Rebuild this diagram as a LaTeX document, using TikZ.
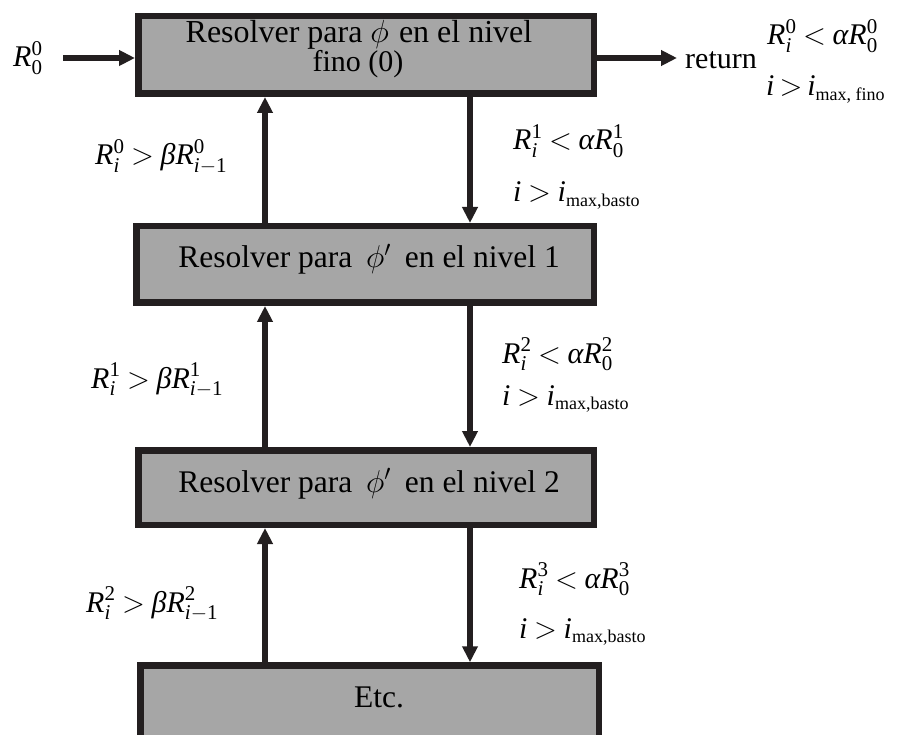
\RequirePackage{fix-cm}
\documentclass[tikz,border=0pt]{standalone}
\usepackage{amsmath}
\usepackage{fontspec}
\setmainfont{Liberation Serif}
\usetikzlibrary{arrows.meta}

\definecolor{boxfill}{RGB}{166,166,166}
\definecolor{ink}{RGB}{35,31,32}

% formula sizes: main 30pt, scripts 21pt; tighter relation spacing
\DeclareMathSizes{30}{30}{21}{15}
\thickmuskip=4mu plus 2mu\relax

% italic / upright letters set in the text font inside formulas
\newcommand\mi[1]{\text{\itshape #1}}
\newcommand\mr[1]{\text{\upshape #1}}
% smaller upright index text
\newcommand\idx[1]{\text{\upshape\fontsize{18}{18}\selectfont #1}}

\begin{document}
\begin{tikzpicture}[x=1pt,y=-1pt,
  levelbox/.style={draw=ink, line width=6.5pt, fill=boxfill, inner sep=0pt},
  boxtext/.style={inner sep=0pt, anchor=base, font=\fontsize{31.5}{31.5}\selectfont},
  cond/.style={inner sep=0pt, anchor=base west, font=\fontsize{30}{30}\selectfont},
  flow/.style={draw=ink, line width=5.5pt, -{Triangle[width=15pt,length=16pt]}}]

\useasboundingbox (0,0) rectangle (897,735);
\clip (0,0) rectangle (897,735);

% level boxes
\node[levelbox, minimum width=455.5pt, minimum height=77.5pt] (b0) at (366,55) {};
\node[levelbox, minimum width=457.5pt, minimum height=76.5pt] (b1) at (365,264.5) {};
\node[levelbox, minimum width=455.5pt, minimum height=74.5pt] (b2) at (366,487.5) {};
\node[levelbox, minimum width=458.5pt, minimum height=80pt] (b3) at (369.5,705.5) {};

% box captions
\node[boxtext, font=\fontsize{32}{32}\selectfont] (t0a) at (359,43)
  {Resolver para $\phi$\hspace{2pt} en el nivel};
\node[boxtext, font=\fontsize{30}{30}\selectfont] (t0b) at (358,72) {fino (0)};
\node[boxtext] (t1) at (369,268)
  {Resolver para\hspace{6pt} $\phi'$\hspace{6pt} en el nivel 1};
\node[boxtext] (t2) at (369,492)
  {Resolver para\hspace{6pt} $\phi'$\hspace{6pt} en el nivel 2};
\node[boxtext] (t3) at (379,707) {Etc.};

% columns of the up and down connectors
\coordinate (ux) at (265,0);
\coordinate (dx) at (470,0);

% input and output
\coordinate (in) at (63,58);
\coordinate (out) at (677,58);
\node[cond] (r0) at (13,67) {$\mi{R}^{\mr{0}}_{\mr{0}}$};
\draw[flow] (in) -- (in -| b0.west);
\draw[flow] (b0.east |- out) -- (out);
\node[inner sep=0pt, anchor=base west, font=\fontsize{30}{30}\selectfont] (ret) at (685,69) {return};
\node[cond] (c0a) at (767,45)
  {$\mi{R}^{\mr{0}}_{\mi{i}} < \mi{α}\mi{R}^{\mr{0}}_{\mr{0}}$};
\node[cond] (c0b) at (766,96)
  {$\mi{i} \mathrel{\mkern-1mu>\mkern-1mu} \mi{i}_{\idx{max, fino}}$};

% level 0 <-> level 1
\draw[flow] (b1.north -| ux) -- (b0.south -| ux);
\draw[flow] (b0.south -| dx) -- (b1.north -| dx);
\node[cond] (u1) at (95,165)
  {$\mi{R}^{\mr{0}}_{\mi{i}} > \mi{β}\mi{R}^{\mr{0}}_{\mi{i}-\mr{1}}$};
\node[cond] (d1a) at (513,150)
  {$\mi{R}^{\mr{1}}_{\mi{i}} < \mi{α}\mi{R}^{\mr{1}}_{\mr{0}}$};
\node[cond] (d1b) at (513,202)
  {$\mi{i} > \mi{i}_{\idx{max,basto}}$};

% level 1 <-> level 2
\draw[flow] (b2.north -| ux) -- (b1.south -| ux);
\draw[flow] (b1.south -| dx) -- (b2.north -| dx);
\node[cond] (u2) at (91,388)
  {$\mi{R}^{\mr{1}}_{\mi{i}} > \mi{β}\mi{R}^{\mr{1}}_{\mi{i}-\mr{1}}$};
\node[cond] (d2a) at (502,363)
  {$\mi{R}^{\mr{2}}_{\mi{i}} < \mi{α}\mi{R}^{\mr{2}}_{\mr{0}}$};
\node[cond] (d2b) at (502,405)
  {$\mi{i} > \mi{i}_{\idx{max,basto}}$};

% level 2 <-> further levels
\draw[flow] (b3.north -| ux) -- (b2.south -| ux);
\draw[flow] (b2.south -| dx) -- (b3.north -| dx);
\node[cond] (u3) at (86,612)
  {$\mi{R}^{\mr{2}}_{\mi{i}} > \mi{β}\mi{R}^{\mr{2}}_{\mi{i}-\mr{1}}$};
\node[cond] (d3a) at (519,588)
  {$\mi{R}^{\mr{3}}_{\mi{i}} < \mi{α}\mi{R}^{\mr{3}}_{\mr{0}}$};
\node[cond] (d3b) at (519,638)
  {$\mi{i} > \mi{i}_{\idx{max,basto}}$};
\end{tikzpicture}
\end{document}
